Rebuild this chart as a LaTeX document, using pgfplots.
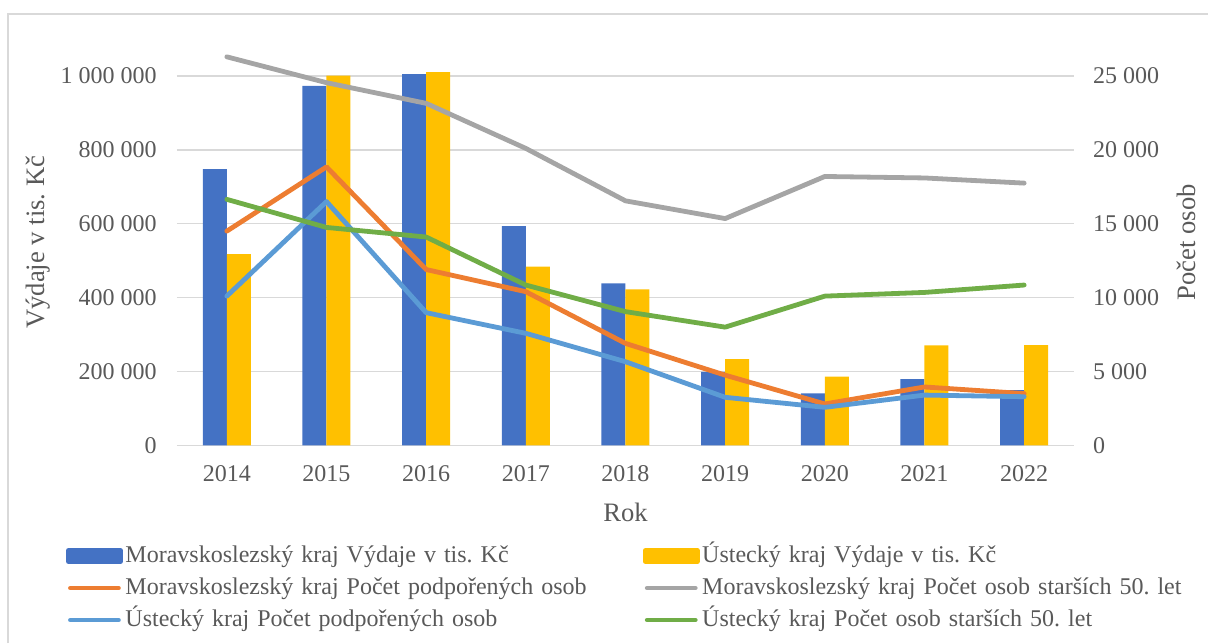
\documentclass[border=0pt]{standalone}
\usepackage{fontspec}
\setmainfont{Liberation Serif}
\usepackage{pgfplots}
\pgfplotsset{compat=1.18}
\frenchspacing
\definecolor{cMB}{HTML}{4472C4}
\definecolor{cUY}{HTML}{FFC000}
\definecolor{cOr}{HTML}{ED7D31}
\definecolor{cGr}{HTML}{A5A5A5}
\definecolor{cLB}{HTML}{5B9BD5}
\definecolor{cGn}{HTML}{70AD47}
\definecolor{cGrid}{HTML}{D9D9D9}
\definecolor{cTxt}{HTML}{595959}
\begin{document}
\frenchspacing
\begin{tikzpicture}
\path[use as bounding box] (-88.5pt,-98.85pt) rectangle (515.5pt,222.65pt);
\draw[cGrid, line width=0.75pt] (-84.5pt,-98.85pt) -- (-84.5pt,215.65pt) -- (515.5pt,215.65pt);
\begin{axis}[
  at={(0pt,0pt)}, anchor=south west,
  scale only axis, width=448.5pt, height=203.1pt,
  xmin=-0.5, xmax=8.5, ymin=0, ymax=1100000,
  scaled y ticks=false,
  axis line style={draw=none},
  major tick length=0pt, tick style={draw=none},
  xtick={0,1,2,3,4,5,6,7,8},
  xticklabels={2014,2015,2016,2017,2018,2019,2020,2021,2022},
  ytick={0,200000,400000,600000,800000,1000000},
  yticklabels={0,200 000,400 000,600 000,800 000,1 000 000},
  ymajorgrids, grid style={cGrid, line width=0.75pt},
  ticklabel style={font=\fontsize{12}{14}\selectfont, text=cTxt},
  xticklabel style={yshift=-6.5pt},
  yticklabel style={xshift=-6.6pt},
  xlabel={Rok}, ylabel={Výdaje v tis. Kč},
  every axis x label/.style={at={(axis description cs:0.5,-0.1642)}, anchor=center, font=\fontsize{13.3}{15}\selectfont, text=cTxt},
  every axis y label/.style={at={(axis description cs:-0.155,0.5)}, anchor=center, rotate=90, font=\fontsize{13.3}{15}\selectfont, text=cTxt},
  ybar=0pt, bar width=12pt,
]
\addplot[fill=cMB, draw=none] coordinates {(0,748000) (1,973000) (2,1005400) (3,593800) (4,438700) (5,199000) (6,140800) (7,179500) (8,149700)};
\addplot[fill=cUY, draw=none] coordinates {(0,518000) (1,1001000) (2,1010800) (3,483600) (4,422400) (5,233700) (6,185800) (7,270700) (8,271600)};
\end{axis}
\begin{axis}[
  at={(0pt,0pt)}, anchor=south west,
  scale only axis, width=448.5pt, height=203.1pt,
  xmin=-0.5, xmax=8.5, ymin=0, ymax=27500,
  scaled y ticks=false,
  axis line style={draw=none},
  major tick length=0pt, tick style={draw=none},
  xtick=\empty,
  ytick={0,5000,10000,15000,20000,25000},
  yticklabels={0,5 000,10 000,15 000,20 000,25 000},
  yticklabel pos=right,
  ticklabel style={font=\fontsize{12}{14}\selectfont, text=cTxt},
  yticklabel style={anchor=west, xshift=6pt},
  ylabel={Počet osob},
  every axis y label/.style={at={(axis description cs:1.1249,0.5)}, anchor=center, rotate=90, font=\fontsize{13.3}{15}\selectfont, text=cTxt},
  legend columns=2,
  legend cell align=left,
  legend style={at={(-0.1237,-0.2430)}, anchor=north west, draw=none, fill=none,
    inner sep=0pt, outer sep=0pt, row sep=4pt,
    font=\fontsize{12}{14}\selectfont\frenchspacing, text=cTxt,
    nodes={inner sep=0pt, text height=9pt, text depth=3pt, text width=258.7pt, align=left},
    /tikz/every odd column/.append style={column sep=1.3pt}},
  every axis plot/.append style={line width=2.4pt, line join=round, line cap=round},
]
\addlegendimage{legend image code/.code={\fill[cMB] (-1pt,-2.75pt) rectangle (25pt,2.75pt);}}
\addlegendentry{Moravskoslezský kraj Výdaje v tis. Kč}
\addlegendimage{legend image code/.code={\fill[cUY] (-1pt,-2.75pt) rectangle (25pt,2.75pt);}}
\addlegendentry{Ústecký kraj Výdaje v tis. Kč}
\pgfplotsset{legend image code/.code={\draw[line width=2.4pt, line cap=round] (0pt,0pt) -- (24pt,0pt);}}
\addplot[cOr] coordinates {(0,14500) (1,18850) (2,11900) (3,10400) (4,6900) (5,4750) (6,2800) (7,3950) (8,3500)};
\addlegendentry{Moravskoslezský kraj Počet podpořených osob}
\addplot[cGr] coordinates {(0,26300) (1,24550) (2,23150) (3,20100) (4,16550) (5,15350) (6,18200) (7,18100) (8,17750)};
\addlegendentry{Moravskoslezský kraj Počet osob starších 50. let}
\addplot[cLB] coordinates {(0,10100) (1,16500) (2,8980) (3,7580) (4,5660) (5,3250) (6,2570) (7,3400) (8,3290)};
\addlegendentry{Ústecký kraj Počet podpořených osob}
\addplot[cGn] coordinates {(0,16650) (1,14750) (2,14100) (3,10850) (4,9050) (5,8000) (6,10100) (7,10350) (8,10850)};
\addlegendentry{Ústecký kraj Počet osob starších 50. let}
\end{axis}
\end{tikzpicture}
\end{document}
